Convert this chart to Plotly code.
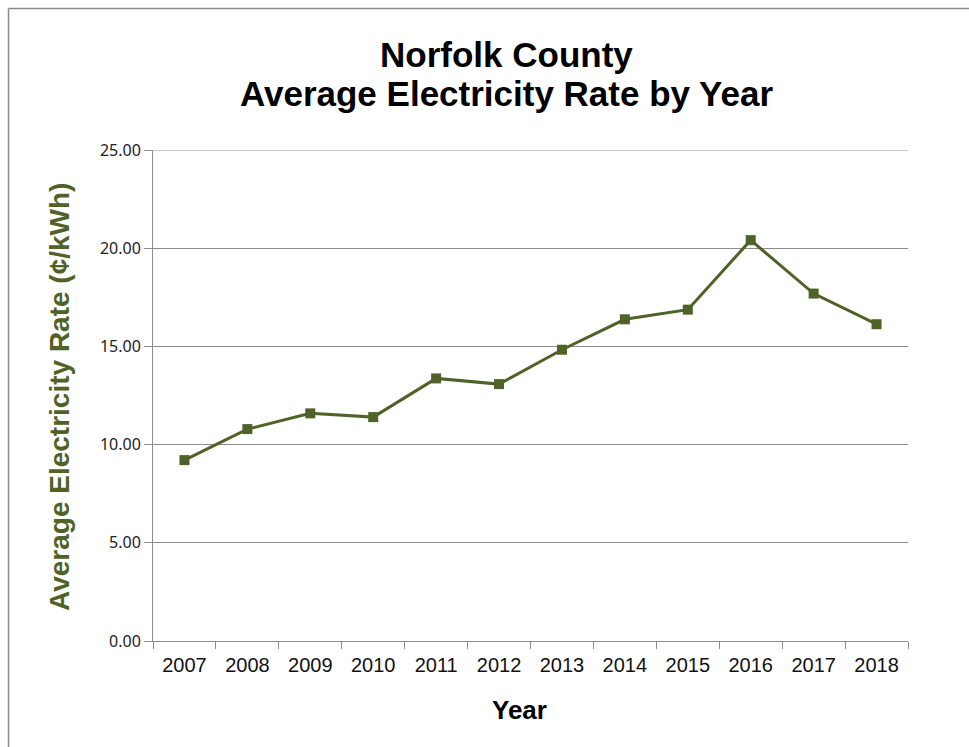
import plotly.graph_objects as go

years = ["2007", "2008", "2009", "2010", "2011", "2012", "2013", "2014", "2015", "2016", "2017", "2018"]
rates = [9.21, 10.79, 11.59, 11.40, 13.37, 13.08, 14.83, 16.38, 16.87, 20.41, 17.69, 16.13]
y_ticks = [0, 5, 10, 15, 20, 25]

title_line1 = "Norfolk County"
title_line2 = "Average Electricity Rate by Year"
y_title = "Average Electricity Rate (¢/kWh)"
x_title = "Year"

GREEN = "#4F6228"
GRID = "#8C8C8C"

W, H = 969, 747
L, R, T, B = 153, 61, 150, 106
PW = W - L - R
PH = H - T - B


def px_x(px):
    return (px - L) / PW


def px_y(py):
    return (H - B - py) / PH


fig = go.Figure()
fig.add_trace(go.Scatter(
    x=years, y=rates, mode="lines+markers",
    line=dict(color=GREEN, width=3),
    marker=dict(symbol="square", size=10, color=GREEN),
    showlegend=False, hoverinfo="x+y",
))

fig.update_layout(
    width=W, height=H,
    margin=dict(l=L, r=R, t=T, b=B, pad=0),
    paper_bgcolor="white", plot_bgcolor="white",
    font=dict(family="Liberation Sans, Arial, sans-serif", color="black"),
    xaxis=dict(
        type="category", range=[-0.5, 11.5],
        showline=True, linecolor=GRID, linewidth=1,
        ticks="outside", ticklen=7, tickcolor=GRID, tickwidth=1,
        tickson="boundaries", showgrid=False, ticklabelstandoff=6,
        tickfont=dict(family="Liberation Sans, Arial", size=20, color="#111"),
        zeroline=False,
    ),
    yaxis=dict(
        range=[0, 25], tickvals=y_ticks, tickformat=".2f",
        showline=True, linecolor=GRID, linewidth=1,
        ticks="outside", ticklen=8, tickcolor=GRID, tickwidth=1,
        showgrid=True, gridcolor=GRID, gridwidth=1,
        tickfont=dict(family="Noto Sans, Open Sans, sans-serif", size=16, color="#222"),
        zeroline=False,
    ),
    annotations=[
        dict(text=f"<b>{title_line1}</b>", xref="paper", yref="paper",
             x=px_x(506), y=px_y(55), xanchor="center", yanchor="middle",
             showarrow=False, font=dict(size=35, color="black", family="Liberation Sans, Arial")),
        dict(text=f"<b>{title_line2}</b>", xref="paper", yref="paper",
             x=px_x(506), y=px_y(94), xanchor="center", yanchor="middle",
             showarrow=False, font=dict(size=35, color="black", family="Liberation Sans, Arial")),
        dict(text=f"<b>{y_title}</b>", xref="paper", yref="paper",
             x=px_x(59), y=px_y(397), xanchor="center", yanchor="middle", textangle=-90,
             showarrow=False, font=dict(size=28, color=GREEN, family="Liberation Sans, Arial")),
        dict(text=f"<b>{x_title}</b>", xref="paper", yref="paper",
             x=px_x(519), y=px_y(710), xanchor="center", yanchor="middle",
             showarrow=False, font=dict(size=26, color="black", family="Liberation Sans, Arial")),
    ],
    shapes=[
        dict(type="line", xref="paper", yref="y",
             x0=0, x1=1, y0=y_ticks[-1], y1=y_ticks[-1],
             line=dict(color=GRID, width=1), layer="below"),
        dict(type="line", xref="paper", yref="paper",
             x0=px_x(8.5), x1=px_x(8.5), y0=px_y(8.5), y1=px_y(760),
             line=dict(color="#888888", width=1.5)),
        dict(type="line", xref="paper", yref="paper",
             x0=px_x(8.5), x1=px_x(980), y0=px_y(8.5), y1=px_y(8.5),
             line=dict(color="#888888", width=1.5)),
    ],
)

fig.write_html("out.html")
